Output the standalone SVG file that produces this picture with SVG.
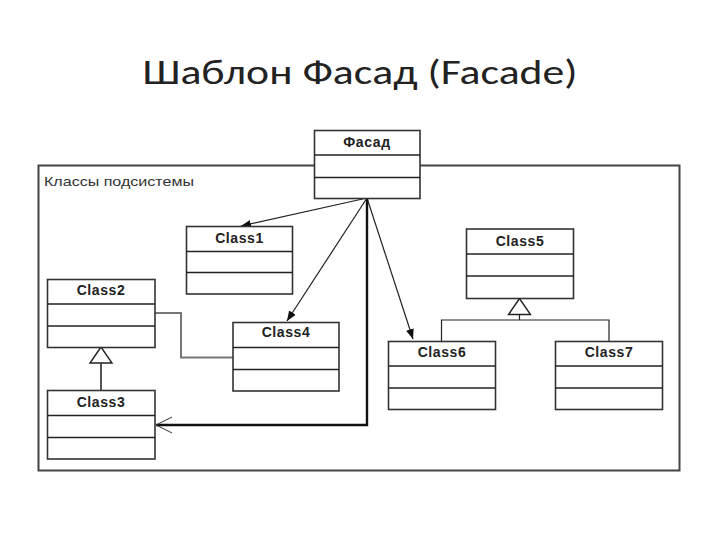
<svg xmlns="http://www.w3.org/2000/svg" width="720" height="540" viewBox="0 0 720 540">
<defs>
<style>
.box{fill:#fff;stroke:#333;stroke-width:1.6}
.div{stroke:#222;stroke-width:1.4}
.cls{font-family:"Liberation Sans",Arial,sans-serif;font-weight:bold;font-size:14px;letter-spacing:0.6px;fill:#222;text-anchor:middle}
.conn{fill:none;stroke:#222;stroke-width:1.2}
.grey{fill:none;stroke:#777;stroke-width:2}
.tri{fill:#fff;stroke:#222;stroke-width:1.4}
</style>
<marker id="fill" viewBox="0 0 10 10" refX="10" refY="5" markerWidth="10" markerHeight="10" markerUnits="userSpaceOnUse" orient="auto">
<path d="M0,1 L10,5 L0,9 Z" fill="#111"/>
</marker>
</defs>
<rect width="720" height="540" fill="#fff"/>
<text x="360" y="84" font-family="Carlito,'Liberation Sans',sans-serif" font-size="35" fill="#222" text-anchor="middle" textLength="435" lengthAdjust="spacingAndGlyphs">Шаблон Фасад (Facade)</text>

<g id="frame">
<rect x="38.5" y="165.5" width="641" height="305" fill="none" stroke="#444" stroke-width="2"/>
<text x="44" y="186" font-family="'Liberation Sans',Arial,sans-serif" font-size="13" fill="#333" textLength="150" lengthAdjust="spacingAndGlyphs">Классы подсистемы</text>
</g>

<g id="connectors">
<line x1="367" y1="198" x2="241" y2="226" class="conn" marker-end="url(#fill)"/>
<line x1="367" y1="198" x2="287" y2="321" class="conn" marker-end="url(#fill)"/>
<line x1="367" y1="198" x2="413" y2="339" class="conn" marker-end="url(#fill)"/>
<polyline points="367,198 367,425 156,425" fill="none" stroke="#111" stroke-width="2.4"/>
<polyline points="172,417 156,425 172,433" fill="none" stroke="#333" stroke-width="1"/>
<polyline points="155,313 181,313 181,357.5 233,357.5" class="grey"/>
<line x1="101" y1="363" x2="101" y2="391" stroke="#555" stroke-width="2"/>
<polygon points="101,347 90,363 112,363" class="tri"/>
<polyline points="519.5,314 519.5,320" class="conn"/>
<polyline points="441.5,342 441.5,320 609,320 609,342" class="conn" stroke="#444" stroke-width="1.6"/>
<polygon points="519.5,298.5 508.5,314.5 530.5,314.5" class="tri"/>
</g>

<g id="facade">
<rect x="314.5" y="130.5" width="105.5" height="68" class="box"/>
<line x1="314.5" y1="155" x2="420" y2="155" class="div"/>
<line x1="314.5" y1="177.5" x2="420" y2="177.5" class="div"/>
<text x="367" y="147" class="cls" font-size="13">Фасад</text>
</g>

<g id="class1">
<rect x="186.5" y="226.5" width="106" height="67.5" class="box"/>
<line x1="186.5" y1="251.5" x2="292.5" y2="251.5" class="div"/>
<line x1="186.5" y1="272.5" x2="292.5" y2="272.5" class="div"/>
<text x="239.5" y="243" class="cls">Class1</text>
</g>

<g id="class2">
<rect x="47.5" y="279.5" width="107.5" height="68" class="box"/>
<line x1="47.5" y1="304" x2="155" y2="304" class="div"/>
<line x1="47.5" y1="326" x2="155" y2="326" class="div"/>
<text x="101" y="295" class="cls">Class2</text>
</g>

<g id="class3">
<rect x="47.5" y="390.5" width="107.5" height="68.5" class="box"/>
<line x1="47.5" y1="415.5" x2="155" y2="415.5" class="div"/>
<line x1="47.5" y1="437.5" x2="155" y2="437.5" class="div"/>
<text x="101" y="407" class="cls">Class3</text>
</g>

<g id="class4">
<rect x="233" y="322.5" width="106" height="68.5" class="box"/>
<line x1="233" y1="347.5" x2="339" y2="347.5" class="div"/>
<line x1="233" y1="369.5" x2="339" y2="369.5" class="div"/>
<text x="286" y="337" class="cls">Class4</text>
</g>

<g id="class5">
<rect x="466.5" y="229" width="107" height="69.5" class="box"/>
<line x1="466.5" y1="254" x2="573.5" y2="254" class="div"/>
<line x1="466.5" y1="276" x2="573.5" y2="276" class="div"/>
<text x="520" y="246" class="cls">Class5</text>
</g>

<g id="class6">
<rect x="388.5" y="341.5" width="107" height="68" class="box"/>
<line x1="388.5" y1="366" x2="495.5" y2="366" class="div"/>
<line x1="388.5" y1="388" x2="495.5" y2="388" class="div"/>
<text x="442" y="357" class="cls">Class6</text>
</g>

<g id="class7">
<rect x="555.5" y="341.5" width="107" height="68" class="box"/>
<line x1="555.5" y1="366" x2="662.5" y2="366" class="div"/>
<line x1="555.5" y1="388" x2="662.5" y2="388" class="div"/>
<text x="609" y="357" class="cls">Class7</text>
</g>
</svg>
